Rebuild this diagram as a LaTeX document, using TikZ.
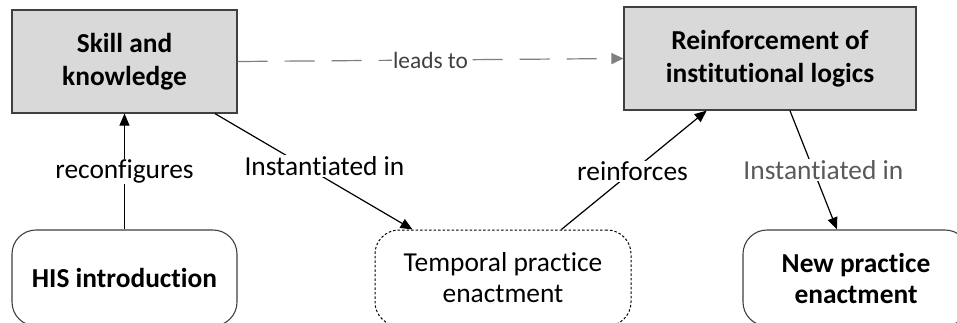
\documentclass[tikz,border=0pt]{standalone}
\usepackage{fontspec}
\setmainfont[Ligatures={NoCommon}]{Carlito}
\usepackage{tikz}
\usetikzlibrary{arrows.meta, calc}
\definecolor{boxGray}{RGB}{217, 217, 217}
\definecolor{edgeDark}{RGB}{64, 64, 64}
\definecolor{linkGray}{RGB}{127, 127, 127}
\definecolor{labelGray}{RGB}{89, 89, 89}

\begin{document}
\begin{tikzpicture}[
    x=1pt, y=-1pt,
    concept/.style={
        rectangle,
        minimum height=103pt,
        align=center,
        font=\fontsize{27.4}{33}\selectfont\bfseries,
        fill=boxGray,
        draw=edgeDark,
        line width=1.2pt
    },
    practice/.style={
        rectangle,
        rounded corners=24pt,
        minimum height=96pt,
        align=center,
        font=\fontsize{27.4}{31}\selectfont,
        fill=white,
        draw=edgeDark,
        line width=1.1pt
    },
    link/.style={
        line width=1.2pt,
        draw=black,
        -{Triangle[length=12pt, width=10pt]}
    },
    linklabel/.style={
        fill=white,
        inner sep=1pt,
        font=\fontsize{27.4}{31}\selectfont
    }
]

% Canvas
\clip (0,0) rectangle (957,322);
\useasboundingbox (0,0) rectangle (957,322);
\fill[white] (0,0) rectangle (957,322);

% Top concepts
\node[concept, minimum width=225pt] (skill) at (124.5, 61.5) {Skill and\\knowledge};
\node[concept, minimum width=292pt] (logics) at (770, 58.5) {Reinforcement of\\institutional logics};

% Practices along the bottom
\node[practice, minimum width=225pt, font=\fontsize{27.4}{31}\selectfont\bfseries] (his) at (124.5, 278) {HIS introduction};
\node[practice, minimum width=256pt, draw=black, line width=1pt, dash pattern=on 2.5pt off 2pt] (temporal) at (503, 278) {Temporal practice\\enactment};
\node[practice, minimum width=226pt, font=\fontsize{27.4}{31}\selectfont\bfseries] (newprac) at (856, 278) {New practice\\enactment};

% Links
\draw[link] (his.north) -- node[linklabel] {reconfigures} (skill.south);
\draw[link] ($(skill.south west)!0.9!(skill.south east)$)
    -- node[linklabel, pos=0.453, xshift=20pt] {Instantiated in}
    ($(temporal.north west)!0.148!(temporal.north east)$);
\draw[link] ($(temporal.north west)!0.727!(temporal.north east)$)
    -- node[linklabel, pos=0.49] {reinforces}
    ($(logics.south west)!0.284!(logics.south east)$);
\draw[link] ($(logics.south west)!0.568!(logics.south east)$)
    -- node[linklabel, pos=0.5, xshift=10pt, text=labelGray] {Instantiated in}
    ($(newprac.north west)!0.416!(newprac.north east)$);

% Dashed lead
\draw[link, draw=linkGray, dash pattern=on 30pt off 17pt,
      -{Triangle[length=12pt, width=11pt, fill=linkGray]}]
    (skill.east) -- node[linklabel, text=edgeDark, font=\fontsize{23.4}{28}\selectfont] {leads to} (logics.west);

\end{tikzpicture}
\end{document}
